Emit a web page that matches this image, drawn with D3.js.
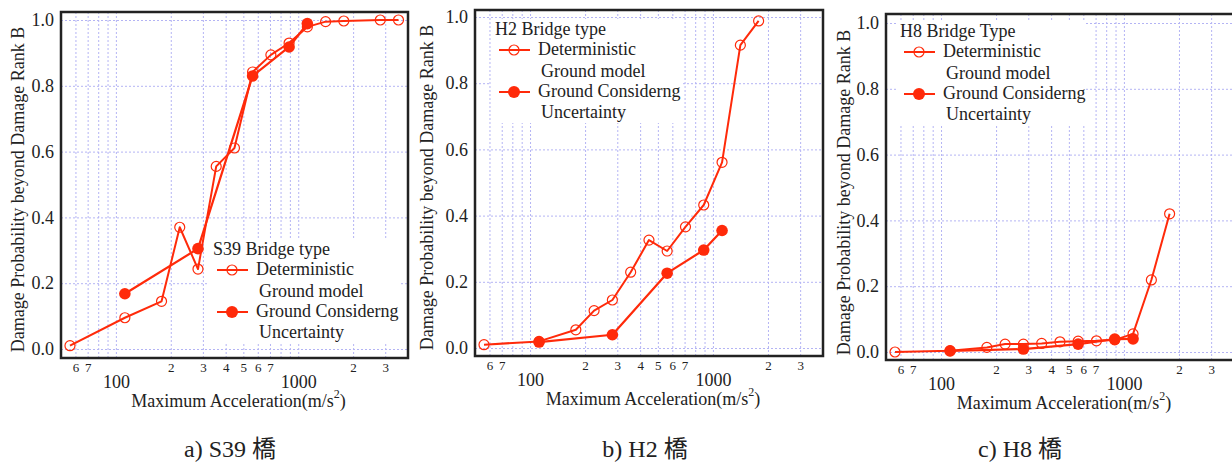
<!DOCTYPE html>
<html>
<head>
<meta charset="utf-8">
<script src="https://cdn.jsdelivr.net/npm/d3@7"></script>
<style>
  html, body { margin: 0; padding: 0; background: #fff; }
  svg { display: block; }
  text { font-family: 'Liberation Serif', 'Noto Sans CJK JP', serif; fill: #222; }
</style>
</head>
<body>
<svg id="chart" width="1232" height="462"></svg>
<script>
// ---------------- data ----------------
// Maximum acceleration values (shared sampling points)
const accel = [56, 112, 178, 224, 282, 355, 447, 562, 708, 891, 1122, 1413, 1778, 2818, 3548];
const accelUnc = [112, 282, 562, 891, 1122];

// a) S39 bridge
const s39Det = [0.01, 0.095, 0.145, 0.37, 0.243, 0.555, 0.611, 0.842, 0.894, 0.93, 0.979, 0.995, 0.997, 1.0, 1.0];
const s39Unc = [0.168, 0.305, 0.83, 0.918, 0.989];

// b) H2 bridge
const h2Det = [0.01, 0.02, 0.055, 0.113, 0.145, 0.229, 0.326, 0.293, 0.366, 0.432, 0.561, 0.915, 0.988];
const h2Unc = [0.018, 0.04, 0.226, 0.296, 0.355];

// c) H8 bridge
const h8Det = [0.0, 0.004, 0.014, 0.024, 0.024, 0.026, 0.031, 0.033, 0.034, 0.037, 0.055, 0.219, 0.42];
const h8Unc = [0.003, 0.009, 0.024, 0.039, 0.04];

const yTicks = [0, 0.2, 0.4, 0.6, 0.8, 1.0];
const gridX = [60, 70, 80, 90, 100, 200, 300, 400, 500, 600, 700, 800, 900, 1000, 2000, 3000];
const minorTickVals = [60, 70, 200, 300, 400, 500, 600, 700, 2000, 3000];
const minorTickLabels = ["6", "7", "2", "3", "4", "5", "6", "7", "2", "3"];
const majorTickVals = [100, 1000];
const majorTickLabels = ["100", "1000"];

const legendTitles = ["S39 Bridge type", "H2 Bridge type", "H8 Bridge Type"];
const legendDet = ["Deterministic", "Ground model"];
const legendUnc = ["Ground Considerng", "Uncertainty"];
const captions = ["a) S39 橋", "b) H2 橋", "c) H8 橋"];
const yTitle = "Damage Probability beyond Damage Rank B";
const xTitle = "Maximum Acceleration(m/s";

// ---------------- layout ----------------
const RED = "#ff2a0a";
const GRID = "#b4b4f4";
const panels = [
  { det: s39Det, unc: s39Unc, left: 61, right: 408, top: 12, bottom: 358, y0: 349, y1: 20,
    legX: 213, legY: 255, legW: 190, capX: 230, yTitleX: 24 },
  { det: h2Det, unc: h2Unc, left: 475, right: 823, top: 10, bottom: 356, y0: 348, y1: 17,
    legX: 495, legY: 35, legW: 190, capX: 645, yTitleX: 433 },
  { det: h8Det, unc: h8Unc, left: 886, right: 1234, top: 14, bottom: 360, y0: 352, y1: 23,
    legX: 900, legY: 37, legW: 190, capX: 1020, yTitleX: 850 }
];

const svg = d3.select("#chart");

panels.forEach((p, pi) => {
  const x = d3.scaleLog().domain([50, 4000]).range([p.left, p.right]);
  const y = d3.scaleLinear().domain([0, 1]).range([p.y0, p.y1]);
  const g = svg.append("g");

  // grid
  const gy = g.append("g").attr("transform", `translate(${p.left},0)`)
    .call(d3.axisLeft(y).tickValues(yTicks).tickSize(-(p.right - p.left)).tickFormat(""));
  const gx = g.append("g").attr("transform", `translate(0,${p.bottom})`)
    .call(d3.axisBottom(x).tickValues(gridX).tickSize(-(p.bottom - p.top)).tickFormat(""));
  [gy, gx].forEach(a => {
    a.select(".domain").remove();
    a.selectAll("line").attr("stroke", GRID).attr("stroke-width", 1).attr("stroke-dasharray", "2,2");
  });

  // legend background
  g.append("rect").attr("x", p.legX - 4).attr("y", p.legY - 16)
    .attr("width", p.legW).attr("height", 104).attr("fill", "#fff");

  // y tick labels
  const ya = g.append("g").attr("transform", `translate(${p.left - 7},0)`)
    .call(d3.axisLeft(y).tickValues(yTicks).tickSize(0).tickPadding(0).tickFormat(d3.format(".1f")));
  ya.select(".domain").remove();
  ya.selectAll("text").attr("font-size", 18).attr("fill", "#222").attr("font-family", "'Liberation Serif', serif");

  // x minor labels
  const xm = g.append("g").attr("transform", `translate(0,${p.bottom + 14})`)
    .call(d3.axisBottom(x).tickValues(minorTickVals).tickSize(0).tickFormat((d, i) => minorTickLabels[i]));
  xm.select(".domain").remove();
  xm.selectAll("text").attr("y", 0).attr("dy", null).attr("font-size", 13).attr("fill", "#222")
    .attr("font-family", "'Liberation Serif', serif");

  // x major labels
  const xM = g.append("g").attr("transform", `translate(0,${p.bottom + 30})`)
    .call(d3.axisBottom(x).tickValues(majorTickVals).tickSize(0).tickFormat((d, i) => majorTickLabels[i]));
  xM.select(".domain").remove();
  xM.selectAll("text").attr("y", 0).attr("dy", null).attr("font-size", 18).attr("fill", "#222")
    .attr("font-family", "'Liberation Serif', serif");

  // x title
  const xt = g.append("text").attr("x", (p.left + p.right) / 2 + 4).attr("y", p.bottom + 49)
    .attr("text-anchor", "middle").attr("font-size", 18);
  xt.append("tspan").text(xTitle);
  xt.append("tspan").attr("font-size", 12).attr("dy", -9).text("2");
  xt.append("tspan").attr("dy", 9).text(")");

  // y title
  g.append("text").attr("transform", `translate(${p.yTitleX},${(p.y0 + p.y1) / 2 + 5}) rotate(-90)`)
    .attr("text-anchor", "middle").attr("font-size", 18).text(yTitle);

  // caption
  g.append("text").attr("x", p.capX).attr("y", 457).attr("text-anchor", "middle")
    .attr("font-size", 24).text(captions[pi]);

  // series
  const detPts = p.det.map((v, i) => [accel[i], v]);
  const uncPts = p.unc.map((v, i) => [accelUnc[i], v]);
  const line = d3.line().x(d => x(d[0])).y(d => y(d[1]));

  g.append("path").datum(detPts).attr("d", line).attr("fill", "none")
    .attr("stroke", RED).attr("stroke-width", 2).attr("stroke-linejoin", "round");
  g.append("path").datum(uncPts).attr("d", line).attr("fill", "none")
    .attr("stroke", RED).attr("stroke-width", 2.2).attr("stroke-linejoin", "round");

  g.selectAll(".det").data(detPts).join("circle")
    .attr("cx", d => x(d[0])).attr("cy", d => y(d[1])).attr("r", 5)
    .attr("fill", "none").attr("stroke", RED).attr("stroke-width", 1.2);
  g.selectAll(".unc").data(uncPts).join("circle")
    .attr("cx", d => x(d[0])).attr("cy", d => y(d[1])).attr("r", 5.8)
    .attr("fill", RED).attr("stroke", "none");

  // legend
  const lx = p.legX, ly = p.legY;
  g.append("text").attr("x", lx).attr("y", ly).attr("font-size", 18).text(legendTitles[pi]);
  // deterministic entry
  g.append("line").attr("x1", lx + 4).attr("x2", lx + 35).attr("y1", ly + 15).attr("y2", ly + 15)
    .attr("stroke", RED).attr("stroke-width", 2);
  g.append("circle").attr("cx", lx + 19).attr("cy", ly + 15).attr("r", 5)
    .attr("fill", "none").attr("stroke", RED).attr("stroke-width", 1.2);
  g.append("text").attr("x", lx + 43).attr("y", ly + 20).attr("font-size", 18).text(legendDet[0]);
  g.append("text").attr("x", lx + 46).attr("y", ly + 42).attr("font-size", 18).text(legendDet[1]);
  // uncertainty entry
  g.append("line").attr("x1", lx + 4).attr("x2", lx + 35).attr("y1", ly + 57).attr("y2", ly + 57)
    .attr("stroke", RED).attr("stroke-width", 2);
  g.append("circle").attr("cx", lx + 19).attr("cy", ly + 57).attr("r", 6).attr("fill", RED);
  g.append("text").attr("x", lx + 43).attr("y", ly + 62).attr("font-size", 18).text(legendUnc[0]);
  g.append("text").attr("x", lx + 46).attr("y", ly + 83).attr("font-size", 18).text(legendUnc[1]);

  // frame
  g.append("rect").attr("x", p.left).attr("y", p.top)
    .attr("width", p.right - p.left).attr("height", p.bottom - p.top)
    .attr("fill", "none").attr("stroke", "#222").attr("stroke-width", 2.5);
});
</script>
</body>
</html>
